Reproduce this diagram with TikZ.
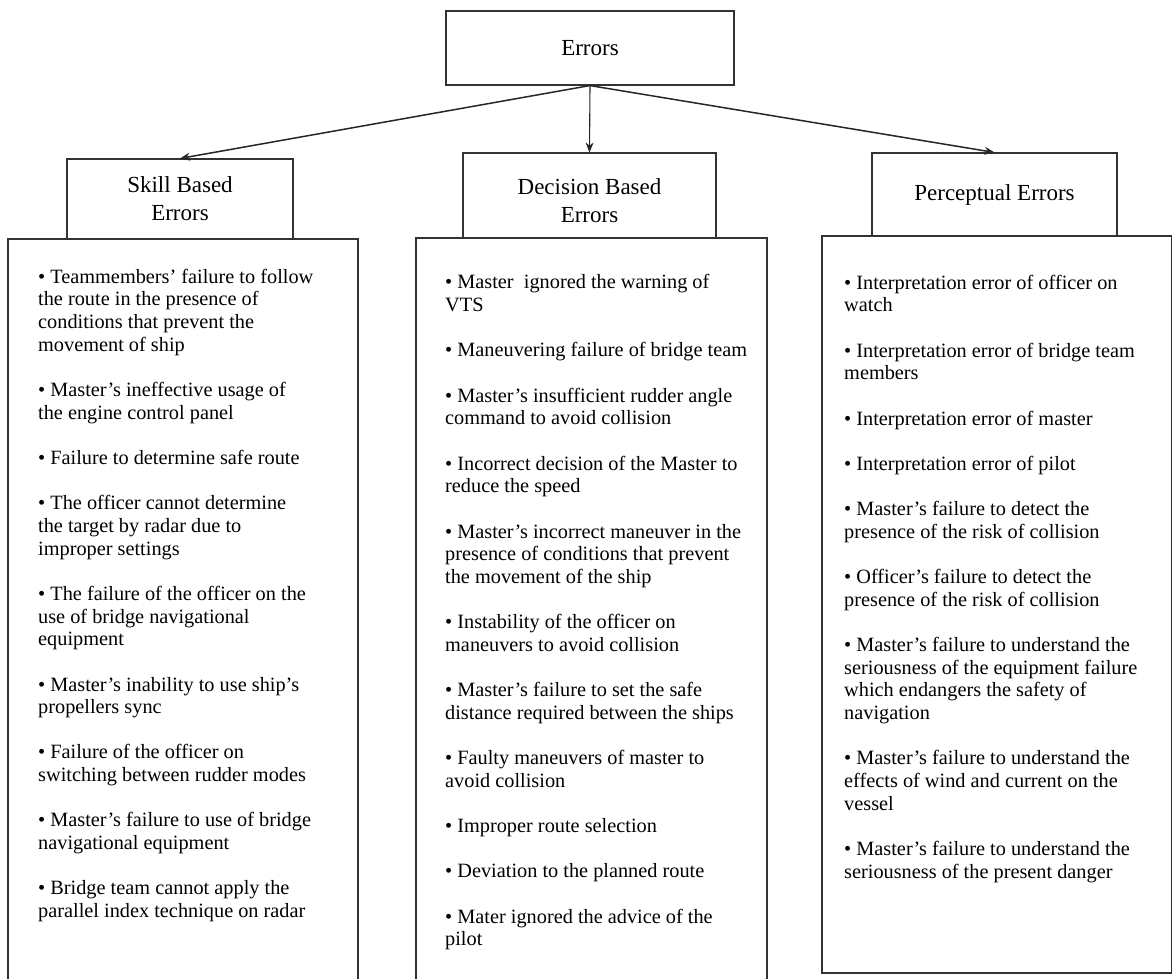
\documentclass[tikz,border=0pt]{standalone}
\usepackage{fontspec}
\setmainfont{Liberation Serif}
\usetikzlibrary{arrows.meta}
\def\igap{22.65pt}
\tikzset{
  hbox/.style={draw=black!80, line width=1.1pt, inner sep=0pt, align=center, font=\fontsize{23}{28}\selectfont},
  htext/.style={inner sep=0pt, align=center, font=\fontsize{23}{28}\selectfont},
  panel/.style={draw=black!80, line width=1.1pt, inner sep=0pt},
  items/.style={anchor=north west, inner sep=0pt, align=left, font=\fontsize{20.3}{22.65}\selectfont, execute at begin node=\strut},
  link/.style={-{Stealth[length=10pt,width=8pt]}, line width=1.5pt, draw=black!85}
}
\begin{document}
\begin{tikzpicture}[x=1pt,y=-1pt]
\useasboundingbox (0,0) rectangle (1172,978);
\clip (0,0) rectangle (1172,978);
% lower panels
\node[panel, minimum width=350pt, minimum height=746pt] (SL) at (183,612) {};
\node[panel, minimum width=351pt, minimum height=747pt] (DL) at (591.5,611.5) {};
\node[panel, minimum width=349.5pt, minimum height=737pt] (PL) at (996.75,604.5) {};
% header boxes
\node[hbox, minimum width=288pt, minimum height=74pt] (E) at (590,48) {Errors};
\node[hbox, minimum width=226pt, minimum height=80pt] (S) at (180,199) {Skill Based\\Errors};
\node[hbox, minimum width=253pt, minimum height=85pt] (D) at (589.5,195.5) {};
\node[htext] (Dt) at (589.5,200.5) {Decision Based\\Errors};
\node[hbox, minimum width=245pt, minimum height=83pt] (P) at (994.5,194.5) {Perceptual Errors};
% connectors
\draw[link] (E.south) -- (S.north);
\draw[link, line width=1.1pt] (E.south) -- (D.north);
\draw[link] (E.south) -- (P.north);
% item lists
\node[items] (ST) at (38,268.8) {%
• Teammembers’ failure to follow\\
the route in the presence of\\
conditions that prevent the\\
movement of ship\\[\igap]
• Master’s ineffective usage of\\
the engine control panel\\[\igap]
• Failure to determine safe route\\[\igap]
• The officer cannot determine\\
the target by radar due to\\
improper settings\\[\igap]
• The failure of the officer on the\\
use of bridge navigational\\
equipment\\[\igap]
• Master’s inability to use ship’s\\
propellers sync\\[\igap]
• Failure of the officer on\\
switching between rudder modes\\[\igap]
• Master’s failure to use of bridge\\
navigational equipment\\[\igap]
• Bridge team cannot apply the\\
parallel index technique on radar};
\node[items] (DT) at (445,274.4) {%
• Master \ ignored the warning of\\
VTS\\[\igap]
• Maneuvering failure of bridge team\\[\igap]
• Master’s insufficient rudder angle\\
command to avoid collision\\[\igap]
• Incorrect decision of the Master to\\
reduce the speed\\[\igap]
• Master’s incorrect maneuver in the\\
presence of conditions that prevent\\
the movement of the ship\\[\igap]
• Instability of the officer on\\
maneuvers to avoid collision\\[\igap]
• Master’s failure to set the safe\\
distance required between the ships\\[\igap]
• Faulty maneuvers of master to\\
avoid collision\\[\igap]
• Improper route selection\\[\igap]
• Deviation to the planned route\\[\igap]
• Mater ignored the advice of the\\
pilot};
\node[items] (PT) at (844,274.6) {%
• Interpretation error of officer on\\
watch\\[\igap]
• Interpretation error of bridge team\\
members\\[\igap]
• Interpretation error of master\\[\igap]
• Interpretation error of pilot\\[\igap]
• Master’s failure to detect the\\
presence of the risk of collision\\[\igap]
• Officer’s failure to detect the\\
presence of the risk of collision\\[\igap]
• Master’s failure to understand the\\
seriousness of the equipment failure\\
which endangers the safety of\\
navigation\\[\igap]
• Master’s failure to understand the\\
effects of wind and current on the\\
vessel\\[\igap]
• Master’s failure to understand the\\
seriousness of the present danger};
\end{tikzpicture}
\end{document}
